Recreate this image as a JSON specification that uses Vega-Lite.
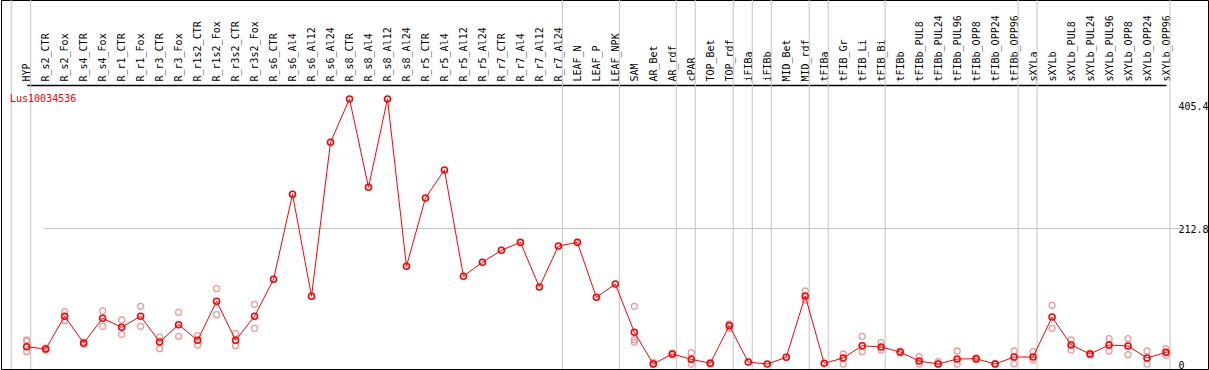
{
  "$schema": "https://vega.github.io/schema/vega-lite/v6.json",
  "width": 1207,
  "height": 369,
  "autosize": {"type": "none"},
  "padding": {"left": 1, "top": 0, "right": 1, "bottom": 1},
  "background": "white",
  "title": {"text": "Lus10034536", "anchor": "start", "frame": "group", "orient": "top", "offset": 0, "baseline": "middle", "dx": 9, "dy": 109, "color": "#ff0000", "font": "DejaVu Sans Mono", "fontSize": 10, "fontWeight": "normal"},
  "config": {"view": {"stroke": "black", "strokeWidth": 1}, "font": "DejaVu Sans Mono"},
  "datasets": {
    "means": [
      {"cat": "HYP", "val": 27.1}, {"cat": "R_s2_CTR", "val": 23.5}, {"cat": "R_s2_Fox", "val": 74.8}, {"cat": "R_s4_CTR", "val": 32.9},
      {"cat": "R_s4_Fox", "val": 71.7}, {"cat": "R_r1_CTR", "val": 57.6}, {"cat": "R_r1_Fox", "val": 74.8}, {"cat": "R_r3_CTR", "val": 34.5},
      {"cat": "R_r3_Fox", "val": 61.6}, {"cat": "R_r1s2_CTR", "val": 37.2}, {"cat": "R_r1s2_Fox", "val": 98.3}, {"cat": "R_r3s2_CTR", "val": 37.2},
      {"cat": "R_r3s2_Fox", "val": 74.8}, {"cat": "R_s6_CTR", "val": 132.8}, {"cat": "R_s6_Al4", "val": 266.1}, {"cat": "R_s6_Al12", "val": 106.2},
      {"cat": "R_s6_Al24", "val": 347.7}, {"cat": "R_s8_CTR", "val": 415.6}, {"cat": "R_s8_Al4", "val": 277.1}, {"cat": "R_s8_Al12", "val": 415.6},
      {"cat": "R_s8_Al24", "val": 153.2}, {"cat": "R_r5_CTR", "val": 260.3}, {"cat": "R_r5_Al4", "val": 304.2}, {"cat": "R_r5_Al12", "val": 137.5},
      {"cat": "R_r5_Al24", "val": 159.5}, {"cat": "R_r7_CTR", "val": 178.3}, {"cat": "R_r7_Al4", "val": 190.8}, {"cat": "R_r7_Al12", "val": 120.7},
      {"cat": "R_r7_Al24", "val": 185.0}, {"cat": "LEAF_N", "val": 190.8}, {"cat": "LEAF_P", "val": 104.6}, {"cat": "LEAF_NPK", "val": 125.4},
      {"cat": "SAM", "val": 49.7}, {"cat": "AR_Bet", "val": 0.0}, {"cat": "AR_rdf", "val": 15.7}, {"cat": "cPAR", "val": 7.4},
      {"cat": "TOP_Bet", "val": 1.1}, {"cat": "TOP_rdf", "val": 60.1}, {"cat": "iFIBa", "val": 3.1}, {"cat": "iFIBb", "val": 0.0},
      {"cat": "MID_Bet", "val": 10.5}, {"cat": "MID_rdf", "val": 106.6}, {"cat": "tFIBa", "val": 1.1}, {"cat": "tFIB_Gr", "val": 9.4},
      {"cat": "tFIB_Li", "val": 28.7}, {"cat": "tFIB_Bi", "val": 26.7}, {"cat": "tFIBb", "val": 18.8}, {"cat": "tFIBb_PUL8", "val": 4.7},
      {"cat": "tFIBb_PUL24", "val": 0.0}, {"cat": "tFIBb_PUL96", "val": 7.8}, {"cat": "tFIBb_OPP8", "val": 8.3}, {"cat": "tFIBb_OPP24", "val": 0.0},
      {"cat": "tFIBb_OPP96", "val": 11.0}, {"cat": "sXYLa", "val": 11.0}, {"cat": "sXYLb", "val": 73.7}, {"cat": "sXYLb_PUL8", "val": 29.8},
      {"cat": "sXYLb_PUL24", "val": 15.7}, {"cat": "sXYLb_PUL96", "val": 29.8}, {"cat": "sXYLb_OPP8", "val": 28.2}, {"cat": "sXYLb_OPP24", "val": 9.4},
      {"cat": "sXYLb_OPP96", "val": 18.3}
    ],
    "reps": [
      {"cat": "HYP", "val": 37.6}, {"cat": "HYP", "val": 35.6}, {"cat": "HYP", "val": 19.3},
      {"cat": "R_s2_CTR", "val": 22.0}, {"cat": "R_s2_CTR", "val": 25.0},
      {"cat": "R_s2_Fox", "val": 82.0}, {"cat": "R_s2_Fox", "val": 67.9},
      {"cat": "R_s4_CTR", "val": 31.0}, {"cat": "R_s4_CTR", "val": 34.0},
      {"cat": "R_s4_Fox", "val": 83.1}, {"cat": "R_s4_Fox", "val": 59.1},
      {"cat": "R_r1_CTR", "val": 69.0}, {"cat": "R_r1_CTR", "val": 46.6},
      {"cat": "R_r1_Fox", "val": 90.5}, {"cat": "R_r1_Fox", "val": 59.1},
      {"cat": "R_r3_CTR", "val": 42.3}, {"cat": "R_r3_CTR", "val": 24.0},
      {"cat": "R_r3_Fox", "val": 81.1}, {"cat": "R_r3_Fox", "val": 43.4},
      {"cat": "R_r1s2_CTR", "val": 44.4}, {"cat": "R_r1s2_CTR", "val": 29.8},
      {"cat": "R_r1s2_Fox", "val": 118.1}, {"cat": "R_r1s2_Fox", "val": 77.3},
      {"cat": "R_r3s2_CTR", "val": 47.5}, {"cat": "R_r3s2_CTR", "val": 28.7},
      {"cat": "R_r3s2_Fox", "val": 93.6}, {"cat": "R_r3s2_Fox", "val": 56.0},
      {"cat": "SAM", "val": 90.5}, {"cat": "SAM", "val": 38.1}, {"cat": "SAM", "val": 34.0},
      {"cat": "AR_Bet", "val": 0.0}, {"cat": "AR_Bet", "val": 2.0},
      {"cat": "AR_rdf", "val": 14.5}, {"cat": "AR_rdf", "val": 16.5},
      {"cat": "cPAR", "val": 17.7}, {"cat": "cPAR", "val": 0.0},
      {"cat": "TOP_Bet", "val": 0.0}, {"cat": "TOP_Bet", "val": 2.0},
      {"cat": "TOP_rdf", "val": 62.7}, {"cat": "TOP_rdf", "val": 56.0},
      {"cat": "MID_rdf", "val": 114.5}, {"cat": "MID_rdf", "val": 100.4},
      {"cat": "tFIB_Gr", "val": 15.7}, {"cat": "tFIB_Gr", "val": 0.0},
      {"cat": "tFIB_Li", "val": 43.4}, {"cat": "tFIB_Li", "val": 19.3},
      {"cat": "tFIB_Bi", "val": 33.4}, {"cat": "tFIB_Bi", "val": 22.0},
      {"cat": "tFIBb", "val": 17.5}, {"cat": "tFIBb", "val": 20.0},
      {"cat": "tFIBb_PUL8", "val": 11.4}, {"cat": "tFIBb_PUL8", "val": 0.0},
      {"cat": "tFIBb_PUL24", "val": 3.6}, {"cat": "tFIBb_PUL24", "val": 0.0},
      {"cat": "tFIBb_PUL96", "val": 20.4}, {"cat": "tFIBb_PUL96", "val": 0.0},
      {"cat": "tFIBb_OPP8", "val": 9.5}, {"cat": "tFIBb_OPP8", "val": 7.0},
      {"cat": "tFIBb_OPP24", "val": 0.0}, {"cat": "tFIBb_OPP24", "val": 1.0},
      {"cat": "tFIBb_OPP96", "val": 20.4}, {"cat": "tFIBb_OPP96", "val": 0.5},
      {"cat": "sXYLa", "val": 19.3}, {"cat": "sXYLa", "val": 6.3},
      {"cat": "sXYLb", "val": 92.0}, {"cat": "sXYLb", "val": 56.0},
      {"cat": "sXYLb_PUL8", "val": 37.6}, {"cat": "sXYLb_PUL8", "val": 22.0},
      {"cat": "sXYLb_PUL24", "val": 14.0}, {"cat": "sXYLb_PUL24", "val": 17.0},
      {"cat": "sXYLb_PUL96", "val": 39.7}, {"cat": "sXYLb_PUL96", "val": 20.4},
      {"cat": "sXYLb_OPP8", "val": 39.7}, {"cat": "sXYLb_OPP8", "val": 14.6},
      {"cat": "sXYLb_OPP24", "val": 20.4}, {"cat": "sXYLb_OPP24", "val": 0.0},
      {"cat": "sXYLb_OPP96", "val": 24.0}, {"cat": "sXYLb_OPP96", "val": 13.6}
    ],
    "seps": [
      {"cat": "HYP"}, {"cat": "R_r7_Al24"}, {"cat": "LEAF_NPK"}, {"cat": "AR_rdf"}, {"cat": "cPAR"}, {"cat": "TOP_rdf"},
      {"cat": "iFIBa"}, {"cat": "iFIBb"}, {"cat": "MID_rdf"}, {"cat": "tFIBa"}, {"cat": "tFIB_Bi"}, {"cat": "tFIBb_OPP96"},
      {"cat": "sXYLa"}, {"cat": "sXYLb_OPP96"}
    ],
    "first": [{"cat": "HYP"}]
  },
  "encoding": {
    "x": {
      "field": "cat", "type": "ordinal",
      "scale": {"type": "point", "padding": 0, "range": [25.7, 1165],
        "domain": ["HYP","R_s2_CTR","R_s2_Fox","R_s4_CTR","R_s4_Fox","R_r1_CTR","R_r1_Fox","R_r3_CTR","R_r3_Fox","R_r1s2_CTR","R_r1s2_Fox","R_r3s2_CTR","R_r3s2_Fox","R_s6_CTR","R_s6_Al4","R_s6_Al12","R_s6_Al24","R_s8_CTR","R_s8_Al4","R_s8_Al12","R_s8_Al24","R_r5_CTR","R_r5_Al4","R_r5_Al12","R_r5_Al24","R_r7_CTR","R_r7_Al4","R_r7_Al12","R_r7_Al24","LEAF_N","LEAF_P","LEAF_NPK","SAM","AR_Bet","AR_rdf","cPAR","TOP_Bet","TOP_rdf","iFIBa","iFIBb","MID_Bet","MID_rdf","tFIBa","tFIB_Gr","tFIB_Li","tFIB_Bi","tFIBb","tFIBb_PUL8","tFIBb_PUL24","tFIBb_PUL96","tFIBb_OPP8","tFIBb_OPP24","tFIBb_OPP96","sXYLa","sXYLb","sXYLb_PUL8","sXYLb_PUL24","sXYLb_PUL96","sXYLb_OPP8","sXYLb_OPP24","sXYLb_OPP96"]},
      "axis": {"orient": "top", "offset": -85, "title": null, "ticks": false, "grid": false, "domain": true, "domainColor": "black", "domainWidth": 1.5,
        "labelAngle": 270, "labelPadding": 4, "labelFont": "DejaVu Sans Mono", "labelFontSize": 10, "labelColor": "black", "labelOverlap": false, "labelLimit": 0}
    }
  },
  "layer": [
    {
      "data": {"name": "seps"},
      "mark": {"type": "rule", "xOffset": 4, "color": "#c4c4c4", "strokeWidth": 1},
      "encoding": {}
    },
    {
      "data": {"name": "first"},
      "mark": {"type": "rule", "xOffset": -15.5, "color": "#c4c4c4", "strokeWidth": 1},
      "encoding": {}
    },
    {
      "data": {"name": "reps"},
      "mark": {"type": "point", "shape": "circle", "filled": false, "color": "#f09a9a", "strokeWidth": 1.3, "size": 36, "opacity": 1},
      "encoding": {
        "y": {"field": "val", "type": "quantitative",
          "scale": {"domain": [-7.84, 570.8], "nice": false, "zero": false},
          "axis": {"orient": "right", "offset": -30, "title": null, "values": [0, 212.8, 405.4],
            "labelExpr": "datum.value == 0 ? '0' : format(datum.value, '.1f')", "ticks": false, "domain": false,
            "labelAlign": "left", "labelPadding": 0, "labelBaseline": "middle", "labelOffset": 1, "labelFont": "DejaVu Sans Mono", "labelFontSize": 10, "labelColor": "black",
            "grid": true, "gridColor": {"condition": {"test": "datum.value > 200 && datum.value < 300", "value": "#c4c4c4"}, "value": "transparent"}, "gridWidth": 1}
        }
      }
    },
    {
      "data": {"name": "means"},
      "mark": {"type": "line", "color": "#ff0000", "strokeWidth": 1},
      "encoding": {"y": {"field": "val", "type": "quantitative"}}
    },
    {
      "data": {"name": "means"},
      "mark": {"type": "point", "shape": "circle", "filled": false, "color": "#ff0000", "strokeWidth": 1.6, "size": 36, "opacity": 1},
      "encoding": {"y": {"field": "val", "type": "quantitative"}}
    }
  ]
}
